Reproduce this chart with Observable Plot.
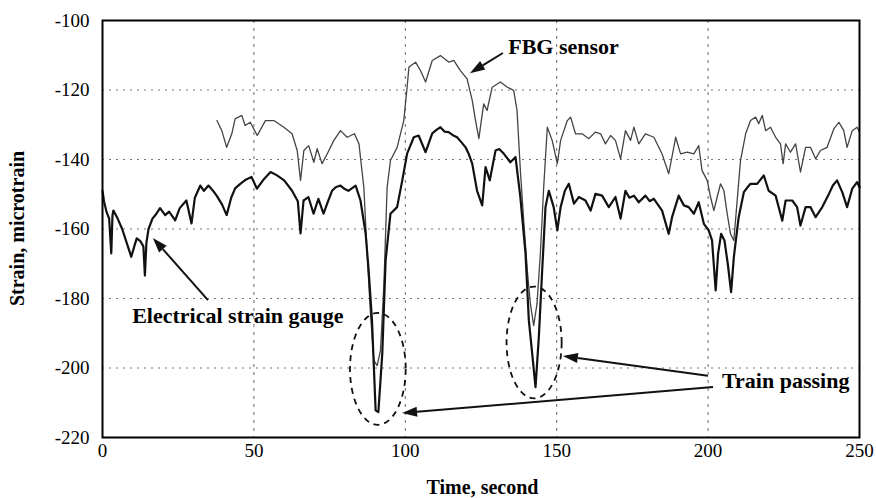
<!DOCTYPE html>
<html>
<head>
<meta charset="utf-8">
<script src="https://cdn.jsdelivr.net/npm/d3@7"></script>
<script src="https://cdn.jsdelivr.net/npm/@observablehq/plot@0.6"></script>
<style>
  html, body { margin: 0; padding: 0; background: #fff; }
  #chart { width: 876px; height: 498px; }
  #chart svg, #chart svg text { font-family: "Liberation Serif", "DejaVu Serif", serif !important; }
</style>
</head>
<body>
<div id="chart"></div>
<script>
// ---- data ----
const xTicks = [0, 50, 100, 150, 200, 250];
const yTicks = [-100, -120, -140, -160, -180, -200, -220];

// Electrical strain gauge
const esgTime = [0,0.5,1.3,2.2,2.9,3.3,3.6,5,6.5,8,9.5,10.5,11.3,12.5,13.5,14,14.5,15.2,16.5,17.8,19,20.7,22,24,25.5,27.7,29.4,30.5,32.3,33.5,35,36.5,37.7,39.5,41,42.5,43.8,45.5,47,49.2,51,53,55.5,57.5,60,62.6,64.5,65.4,66.4,68,69.7,71.3,73,74.5,75.8,77,78.6,80,81.2,83.6,85.2,86.9,87.9,89,90.2,91.1,92.4,93.5,95.1,97.3,99,100.6,102.8,104.4,106.7,108.9,110.3,111.6,113,114.3,115.7,117.1,118.5,119.9,121,122.1,123.7,125.4,126.5,127.9,129.8,131,132.5,134.7,136.4,138,139.7,140.8,141.9,143,144.1,145.2,146.3,147.4,149,150.2,151.3,152.7,154,155.7,157.3,159.5,161.2,162.8,165,167.2,169.4,171.1,172.7,174,175.5,177.1,179.3,180.7,182.1,184.8,187,188.1,190.3,192,193.6,195.3,196.9,198.6,200.2,201.3,202.5,203.3,204.3,205.4,206.5,207.6,208.5,210.1,211.8,213,214,216.2,218.4,220,222.3,224.5,225.6,227.8,229.4,230.5,232.2,233.8,235.5,237.7,239.9,241.2,242.6,244.3,245.9,247.6,249.2,250];
const esgStrain = [-149,-152,-155,-157,-167,-156,-154.7,-157,-160,-164,-168,-165,-162.7,-163.5,-165,-173.4,-164,-160,-157,-155.6,-154,-156,-155,-157.5,-154,-151.8,-158.4,-151,-147.5,-149,-147.5,-149,-150.4,-153,-156,-151,-148.3,-147,-146,-145,-148.4,-146,-143.6,-144.5,-146,-149,-152,-161.3,-151.8,-150.8,-155.6,-151.3,-155.6,-152,-149,-148,-147.5,-148.5,-149,-147.5,-151.8,-161.3,-172,-186.3,-212.2,-212.7,-195.8,-169,-155.6,-153.7,-146,-138.3,-133.6,-133.1,-137.9,-132.5,-131.5,-130.7,-132,-132.1,-133,-133.6,-135,-136.5,-138.5,-141.2,-149,-153.2,-142.2,-146,-137.4,-137,-138.3,-140.8,-139.3,-150.8,-167,-186.3,-195.8,-205.5,-191.1,-172,-153.7,-149,-153.7,-160.4,-153.7,-149,-147,-152.7,-150.8,-151.8,-154.7,-149.9,-150.4,-153.7,-150.8,-157,-149,-151,-150.4,-152.3,-150.4,-152,-151.3,-154.7,-161.4,-156.6,-150.4,-153.2,-153.7,-155.6,-152.3,-158.5,-160.4,-163.3,-177.7,-167.1,-161.4,-163.3,-170,-178.2,-168.1,-156.6,-149.4,-148,-147,-147,-144.6,-149,-150.4,-157.6,-151.8,-151.8,-153.7,-159,-153.7,-153.7,-156.6,-153.7,-149.9,-147.5,-146,-149.4,-153.7,-148.4,-146.5,-148];

// FBG sensor
const fbgTime = [37.8,39.4,41,42.7,43.8,46,47.1,48.8,51.1,53.8,56.6,59.9,62.6,64.3,65.4,66.5,68.1,69.8,70.9,72.5,74.2,76.4,78.6,80.8,83.2,84.7,86.3,87.4,88.5,89.6,90.7,91.8,92.9,94,95.1,97.3,99.5,100.6,101.2,103.4,105,106.7,108.9,111.6,114.4,116,118.2,120.4,122.1,123.2,124.3,125.1,125.9,127,128.7,131.4,133.7,135.8,136.9,138,139.1,140.3,141.3,142.4,143.5,144.6,145.7,146.9,148.5,150.2,151.3,153.5,154.6,156.2,158.4,160.6,162.8,164.5,166.1,167.8,169.4,171.1,172.7,174.4,175.5,177.1,179.3,182.1,184.8,187,189.3,190.9,193.1,195.3,196.9,198,199.7,200.8,201.9,203,204.1,205.2,206.3,207.4,208.5,209.6,210.7,212.4,214,215.7,216.7,217.9,219,220.6,222.3,223.9,224.8,225.6,227.2,228.9,230.5,232.2,233.8,235.5,237.1,239.3,241.5,243.2,244.8,245.9,247.6,249.2,250];
const fbgStrain = [-128.8,-131.7,-136.5,-132.6,-128.3,-127.3,-130.2,-129.3,-133.1,-128.8,-128.8,-130.7,-132.6,-137.4,-146,-137.4,-136,-140.8,-136.9,-141.2,-138.4,-134.5,-131.7,-133.6,-132.6,-135.5,-148,-167.1,-184.4,-197.8,-199.3,-195,-176.7,-148,-140.3,-136.5,-128.8,-119.2,-113.4,-112,-114.4,-117.7,-111.5,-110.1,-112,-111.5,-114.4,-116.8,-123,-128.8,-134,-128.8,-124,-125.9,-119.2,-117.7,-119.2,-120.1,-125.9,-143.2,-157.6,-171.9,-181.5,-187.8,-181.5,-167.1,-148,-130.7,-134.5,-141.2,-134.5,-128.8,-127.8,-132.6,-132.6,-134,-132.1,-132.6,-135.5,-133.1,-134.5,-139.8,-131.7,-134.5,-130.7,-135.5,-132.6,-133.6,-138.4,-144.1,-133.6,-138.4,-137.9,-138.4,-136,-143.2,-146,-150.8,-154.7,-150.8,-147,-148.9,-155.6,-161.4,-163.3,-151.8,-140.3,-132.6,-128.8,-127.8,-129.7,-127.3,-131.7,-130.7,-133.6,-135.5,-141.2,-135.5,-137.9,-135.5,-143.6,-136.5,-136.5,-139.8,-137.4,-136.5,-131.2,-129.3,-131.7,-136.5,-131.7,-130.7,-132.1];

// annotations (data units)
const labelText = ["FBG sensor", "Electrical strain gauge", "Train passing"];
const labelTime = [134.0, 9.8, 204.6];
const labelStrain = [-107.6, -185.0, -203.6];
const arrowFrom = [[132.4, -109.5], [35.0, -180.6], [200.1, -202.4], [201.8, -205.6]];
const arrowTo = [[121.5, -115.3], [16.8, -162.7], [152.2, -196.7], [99.1, -213.1]];
const ellipseCenters = [[91.1, -200.4], [142.7, -192.8]];
const ellipseRadii = [[9.2, 16.1], [9.1, 16.1]];

const esg = esgTime.map((t, i) => ({t, v: esgStrain[i]}));
const fbg = fbgTime.map((t, i) => ({t, v: fbgStrain[i]}));
const labels = labelText.map((s, i) => ({s, t: labelTime[i], v: labelStrain[i]}));

const FONT = "Liberation Serif, serif";

function annotations(index, scales, values, dimensions) {
  const {x, y} = scales;
  const g = d3.create("svg:g");
  ellipseCenters.forEach((c, i) => {
    const cx = x(c[0]), cy = y(c[1]);
    const rx = Math.abs(x(c[0] + ellipseRadii[i][0]) - cx);
    const ry = Math.abs(y(c[1] + ellipseRadii[i][1]) - cy);
    g.append("ellipse").attr("cx", cx).attr("cy", cy).attr("rx", rx).attr("ry", ry)
      .attr("fill", "none").attr("stroke", "#111").attr("stroke-width", 1.8)
      .attr("stroke-dasharray", "6,5");
  });
  arrowFrom.forEach((f, i) => {
    const x1 = x(f[0]), y1 = y(f[1]), x2 = x(arrowTo[i][0]), y2 = y(arrowTo[i][1]);
    const ang = Math.atan2(y2 - y1, x2 - x1);
    const L = 15, W = 5;
    const bx = x2 - L * Math.cos(ang), by = y2 - L * Math.sin(ang);
    g.append("line").attr("x1", x1).attr("y1", y1).attr("x2", bx).attr("y2", by)
      .attr("stroke", "#111").attr("stroke-width", 2);
    const px = -Math.sin(ang) * W, py = Math.cos(ang) * W;
    g.append("path")
      .attr("d", `M${x2},${y2}L${bx + px},${by + py}L${bx - px},${by - py}Z`)
      .attr("fill", "#111");
  });
  const {width, height, marginLeft, marginRight, marginTop, marginBottom} = dimensions;
  g.append("text").attr("x", (marginLeft + width - marginRight) / 2 + 2).attr("y", height - 4)
    .attr("text-anchor", "middle").attr("font-size", 20)
    .attr("font-weight", "bold").attr("fill", "#000").text("Time, second");
  const cy = (marginTop + height - marginBottom) / 2;
  g.append("text").attr("transform", `translate(24,${cy}) rotate(-90)`)
    .attr("text-anchor", "middle").attr("font-size", 20)
    .attr("font-weight", "bold").attr("fill", "#000").text("Strain, microtrain");
  return g.node();
}

const chart = Plot.plot({
  width: 876,
  height: 498,
  marginLeft: 102,
  marginRight: 17,
  marginTop: 20,
  marginBottom: 61,
  style: {fontFamily: FONT, fontSize: "19px", color: "#000", background: "#fff"},
  x: {domain: [0, 250], ticks: xTicks, tickFormat: d => String(d), tickSize: 0, tickPadding: 6, label: null},
  y: {domain: [-220, -100], ticks: yTicks, tickFormat: d => String(d), tickSize: 0, tickPadding: 13, label: null},
  marks: [
    Plot.ruleX(xTicks.slice(1, -1), {stroke: "#666", strokeWidth: 1, strokeDasharray: "3,5"}),
    Plot.ruleY(yTicks.slice(1, -1), {stroke: "#777", strokeWidth: 1, strokeDasharray: "2,5"}),
    Plot.line(fbg, {x: "t", y: "v", stroke: "#444", strokeWidth: 1.3}),
    Plot.line(esg, {x: "t", y: "v", stroke: "#111", strokeWidth: 2.2}),
    Plot.text(labels, {x: "t", y: "v", text: "s", textAnchor: "start", fontWeight: "bold", fontSize: 22, fill: "#000"}),
    annotations,
    Plot.frame({stroke: "#000", strokeWidth: 2})
  ]
});
document.getElementById("chart").appendChild(chart);
</script>
</body>
</html>
